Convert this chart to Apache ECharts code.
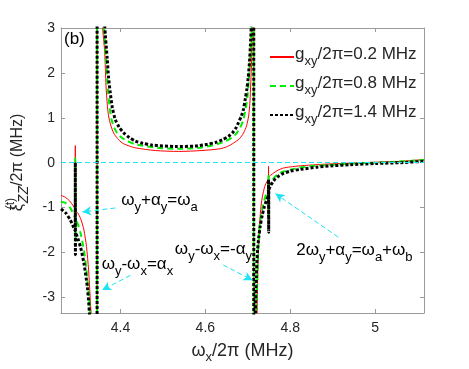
<!DOCTYPE html>
<html>
<head>
<meta charset="utf-8">
<script src="https://cdn.jsdelivr.net/npm/echarts@6/dist/echarts.min.js"></script>
<style>
  html, body { margin: 0; padding: 0; background: #fff; }
  #chart { width: 469px; height: 369px; }
</style>
</head>
<body>
<div id="chart"></div>
<script>
// ticks
var xTicks = [4.4, 4.6, 4.8, 5];
var yTicks = [-3, -2, -1, 0, 1, 2, 3];
var gxyValues = ['0.2', '0.8', '1.4'];

// curves, [omega_x/2pi, xi/2pi]
var redPts = [
  [4.260, -0.73], [4.270, -0.77], [4.280, -0.85], [4.290, -0.98], [4.2935, -1.04],
  [4.2937, 0.38], [4.2940, -1.5], [4.2945, -1.07],
  [4.300, -1.13], [4.306, -1.24], [4.314, -1.50], [4.320, -1.87], [4.325, -2.39],
  [4.329, -3.06], [4.332, -3.60], [4.338, -6.0], [4.3445, -60],
  [4.3455, 60], [4.352, 6.0], [4.358, 3.05], [4.363, 2.45], [4.366, 1.71],
  [4.369, 1.30], [4.372, 1.04], [4.377, 0.84], [4.384, 0.66], [4.393, 0.54],
  [4.404, 0.44], [4.418, 0.38], [4.435, 0.33], [4.482, 0.27],
  [4.537, 0.25], [4.592, 0.27], [4.635, 0.31], [4.652, 0.36], [4.667, 0.44],
  [4.680, 0.53], [4.690, 0.66], [4.697, 0.82], [4.702, 1.04], [4.705, 1.35],
  [4.707, 1.78], [4.709, 2.30], [4.710, 2.90], [4.712, 6], [4.7135, 60],
  [4.7145, -60], [4.718, -8], [4.722, -3.36], [4.723, -2.69], [4.725, -1.95],
  [4.729, -1.20], [4.732, -0.90], [4.736, -0.68], [4.740, -0.53], [4.745, -0.42], [4.7485, -0.36],
  [4.7488, -0.08], [4.7492, -0.8], [4.7495, -0.33],
  [4.754, -0.28], [4.761, -0.23], [4.771, -0.17], [4.784, -0.12], [4.800, -0.095], [4.824, -0.07], [4.863, -0.045],
  [4.900, -0.025], [4.941, -0.01], [5.000, 0.01], [5.060, 0.03], [5.115, 0.07]
];

var greenPts = [
  [4.260, -0.87], [4.271, -0.90], [4.282, -1.01], [4.2935, -1.22],
  [4.2937, 0.10], [4.2940, -1.75], [4.2945, -1.25],
  [4.300, -1.38], [4.306, -1.57], [4.314, -1.95], [4.320, -2.39], [4.325, -2.91],
  [4.329, -3.36], [4.333, -4.5], [4.339, -8], [4.3445, -60],
  [4.3455, 60], [4.352, 8], [4.358, 4.0], [4.361, 3.05], [4.366, 2.30],
  [4.371, 1.56], [4.375, 1.20], [4.379, 0.96], [4.385, 0.79], [4.392, 0.66], [4.403, 0.56],
  [4.416, 0.48], [4.432, 0.42], [4.451, 0.38],
  [4.498, 0.32], [4.545, 0.31], [4.592, 0.34], [4.631, 0.42], [4.648, 0.48], [4.663, 0.56],
  [4.674, 0.66], [4.682, 0.78], [4.689, 0.94], [4.694, 1.15], [4.699, 1.45], [4.702, 1.80],
  [4.705, 2.20], [4.707, 2.60], [4.709, 3.05],
  [4.712, 8], [4.7135, 60],
  [4.7145, -60], [4.717, -8], [4.720, -3.36], [4.722, -2.69], [4.725, -1.79],
  [4.728, -1.42], [4.731, -1.20], [4.735, -0.99], [4.739, -0.83], [4.744, -0.68], [4.7485, -0.58],
  [4.7488, -0.28], [4.7492, -1.25], [4.7495, -0.52],
  [4.753, -0.45], [4.760, -0.36], [4.769, -0.27], [4.783, -0.20], [4.800, -0.16], [4.822, -0.11], [4.847, -0.08],
  [4.902, -0.045], [4.960, -0.015], [5.030, 0.01], [5.115, 0.06]
];

var blackPts = [
  [4.260, -1.03], [4.271, -1.12], [4.282, -1.28], [4.2935, -1.52],
  [4.2937, 0.0], [4.2940, -2.05], [4.2945, -1.56],
  [4.300, -1.70], [4.306, -1.88], [4.314, -2.24], [4.322, -2.77], [4.327, -3.36],
  [4.332, -4.6], [4.339, -9], [4.3445, -60],
  [4.3455, 60], [4.352, 8], [4.358, 4.5], [4.363, 3.05], [4.369, 2.30],
  [4.372, 1.90], [4.376, 1.56], [4.381, 1.22], [4.388, 0.96], [4.397, 0.79], [4.408, 0.66],
  [4.421, 0.56], [4.435, 0.48], [4.453, 0.43], [4.475, 0.39],
  [4.529, 0.36], [4.576, 0.37], [4.605, 0.41], [4.624, 0.45], [4.640, 0.51], [4.655, 0.59],
  [4.665, 0.68], [4.672, 0.77], [4.678, 0.89], [4.685, 1.04], [4.690, 1.20], [4.694, 1.42],
  [4.698, 1.65], [4.701, 1.90], [4.704, 2.25], [4.706, 2.60], [4.708, 3.05], [4.711, 8], [4.7135, 60],
  [4.7145, -60], [4.716, -8], [4.718, -3.36], [4.720, -2.54], [4.723, -1.95],
  [4.726, -1.65], [4.729, -1.43], [4.734, -1.17], [4.739, -0.98], [4.744, -0.84], [4.7485, -0.72],
  [4.7488, -0.38], [4.7492, -1.55], [4.7495, -0.62],
  [4.753, -0.52], [4.759, -0.43], [4.765, -0.36], [4.774, -0.29], [4.784, -0.24], [4.800, -0.19],
  [4.824, -0.15], [4.863, -0.10], [4.900, -0.07],
  [4.941, -0.045], [5.000, -0.02], [5.060, 0.0], [5.115, 0.03]
];

var FONT = '"Liberation Sans", Arial, sans-serif';
var CYAN = '#1fe3f0';
var TXT = '#262626';

var mathRich = {
  n: { fontFamily: FONT, fontSize: 17, color: '#000', lineHeight: 22, verticalAlign: 'top' },
  s: { fontFamily: FONT, fontSize: 13, color: '#000', lineHeight: 10, verticalAlign: 'bottom' }
};

function note(x, y, txt) {
  return {
    coord: [x, y], symbol: 'circle', symbolSize: 0,
    label: { show: true, position: 'inside', formatter: txt, rich: mathRich }
  };
}
function arrow(x1, y1, x2, y2) {
  return [{ coord: [x1, y1], symbol: 'none' }, { coord: [x2, y2], symbol: 'arrow', symbolSize: [7, 9] }];
}

var chart = echarts.init(document.getElementById('chart'), null, { renderer: 'canvas' });

var axisCommon = {
  axisLine: { show: true, onZero: false, lineStyle: { color: '#9a9a9a', width: 1 } },
  splitLine: { show: false }
};

var option = {
  animation: false,
  backgroundColor: '#fff',
  grid: { left: 61, right: 45, top: 28, bottom: 56, outerBoundsMode: 'none', containLabel: false },
  legend: {
    orient: 'vertical',
    left: 264, top: 41,
    itemWidth: 24, itemHeight: 14, itemGap: 7,
    itemStyle: { opacity: 0 },
    data: gxyValues.map(function (v) { return 'g' + v; }),
    formatter: function (name) {
      return '{n|g}{s|xy}{n|/2π=' + name.slice(1) + ' MHz}';
    },
    textStyle: {
      padding: [0, 0, 0, -4],
      rich: {
        n: { fontFamily: FONT, fontSize: 17, color: TXT, lineHeight: 22, verticalAlign: 'top' },
        s: { fontFamily: FONT, fontSize: 13, color: TXT, lineHeight: 10, verticalAlign: 'bottom' }
      }
    }
  },
  xAxis: [
    Object.assign({}, axisCommon, {
      type: 'value', min: 4.26, max: 5.115, position: 'bottom',
      axisTick: { show: true, inside: true, length: 4, customValues: xTicks, lineStyle: { color: '#9a9a9a' } },
      axisLabel: { customValues: xTicks, color: TXT, fontFamily: FONT, fontSize: 14, margin: 8 },
      name: '{n|ω}{s|x}{n|/2π (MHz)}',
      nameLocation: 'middle', nameGap: 29,
      nameTextStyle: {
        rich: {
          n: { fontFamily: FONT, fontSize: 18, color: TXT, lineHeight: 22, verticalAlign: 'top' },
          s: { fontFamily: FONT, fontSize: 13, color: TXT, lineHeight: 10, verticalAlign: 'bottom' }
        }
      }
    }),
    Object.assign({}, axisCommon, {
      type: 'value', min: 4.26, max: 5.115, position: 'top',
      axisTick: { show: true, inside: true, length: 4, customValues: xTicks, lineStyle: { color: '#9a9a9a' } },
      axisLabel: { show: false }
    })
  ],
  yAxis: [
    Object.assign({}, axisCommon, {
      type: 'value', min: -3.35, max: 3, position: 'left',
      axisTick: { show: true, inside: true, length: 4, customValues: yTicks, lineStyle: { color: '#9a9a9a' } },
      axisLabel: { customValues: yTicks, color: TXT, fontFamily: FONT, fontSize: 14, margin: 6 },
      name: '{n|ξ}{sup|(t)}{sub|ZZ}{n|/2π (MHz)}',
      nameLocation: 'middle', nameGap: 30, nameRotate: 90,
      nameTextStyle: {
        padding: [0, 0, 0, 16],
        rich: {
          n: { fontFamily: FONT, fontSize: 16, color: TXT, lineHeight: 26, verticalAlign: 'middle' },
          sup: { fontFamily: FONT, fontSize: 12, color: TXT, lineHeight: 8, width: 1, align: 'left', verticalAlign: 'top' },
          sub: { fontFamily: FONT, fontSize: 14, fontStyle: 'italic', color: TXT, lineHeight: 8, verticalAlign: 'bottom' }
        }
      }
    }),
    Object.assign({}, axisCommon, {
      type: 'value', min: -3.35, max: 3, position: 'right',
      axisTick: { show: true, inside: true, length: 4, customValues: yTicks, lineStyle: { color: '#9a9a9a' } },
      axisLabel: { show: false }
    })
  ],
  graphic: [
    { type: 'text', left: 64, top: 31, style: { text: '(b)', font: '17px ' + FONT, fill: '#000' } }
  ],
  series: [
    {
      name: 'g0.2', type: 'line', data: redPts, showSymbol: false, symbol: 'none', z: 2,
      smooth: 0.25,
      lineStyle: { color: '#ff0000', width: 1 }, itemStyle: { color: '#ff0000' }
    },
    {
      name: 'g0.8', type: 'line', data: greenPts, showSymbol: false, symbol: 'none', z: 3,
      smooth: 0.25,
      lineStyle: { color: '#00ee00', width: 2, type: [6, 4] }, itemStyle: { color: '#00ee00' }
    },
    {
      name: 'g1.4', type: 'line', data: blackPts, showSymbol: false, symbol: 'none', z: 4,
      smooth: 0.25,
      lineStyle: { color: '#000', width: 3, type: [3, 2] }, itemStyle: { color: '#000' },
      markLine: {
        silent: true, animation: false,
        label: { show: false },
        lineStyle: { color: CYAN, width: 1, type: [5, 3] },
        symbol: ['none', 'none'],
        data: [
          [{ coord: [4.26, 0], symbol: 'none' }, { coord: [5.115, 0], symbol: 'none' }],
          arrow(4.388, -1.01, 4.310, -1.10),
          arrow(4.4235, -2.51, 4.357, -2.84),
          arrow(4.642, -2.28, 4.711, -2.62),
          arrow(4.913, -1.66, 4.765, -0.69)
        ]
      },
      markPoint: {
        silent: true, animation: false,
        data: [
          note(4.492, -0.90, '{n|ω}{s|y}{n|+α}{s|y}{n|=ω}{s|a}'),
          note(4.440, -2.33, '{n|ω}{s|y}{n|-ω}{s|x}{n|=α}{s|x}'),
          note(4.619, -1.99, '{n|ω}{s|y}{n|-ω}{s|x}{n|=-α}{s|y}'),
          note(4.951, -2.01, '{n|2ω}{s|y}{n|+α}{s|y}{n|=ω}{s|a}{n|+ω}{s|b}')
        ]
      }
    }
  ]
};

chart.setOption(option);
</script>
</body>
</html>
